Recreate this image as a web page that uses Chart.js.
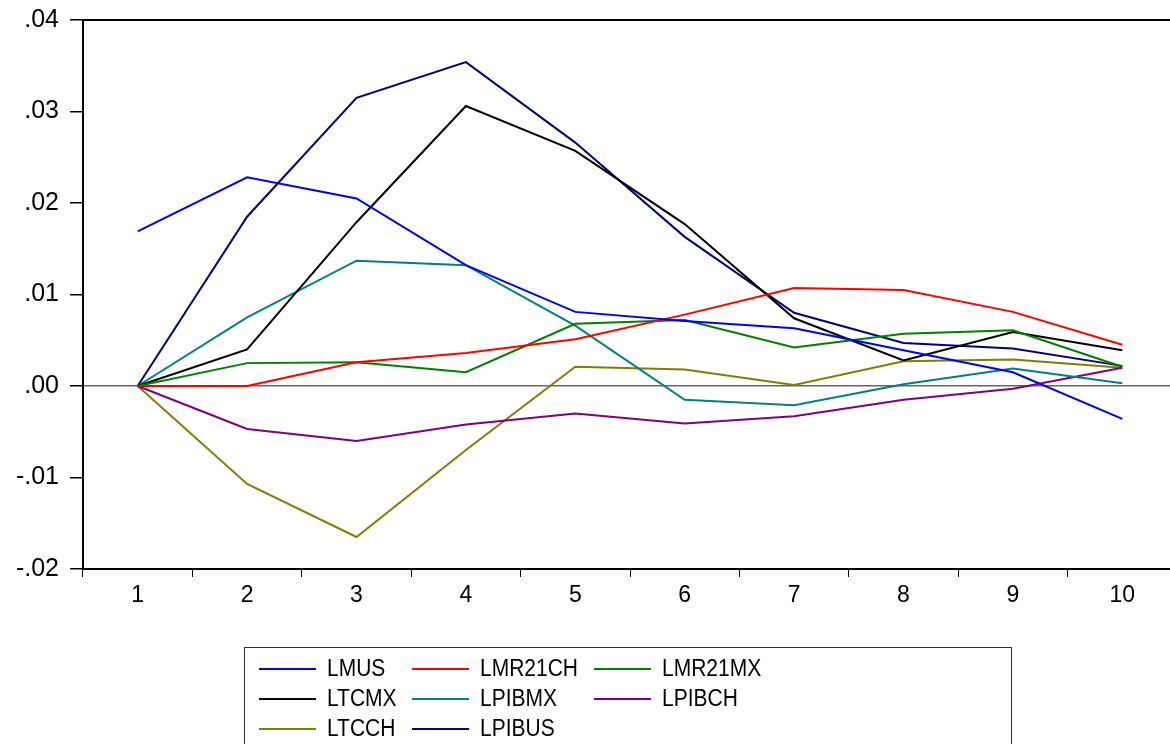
<!DOCTYPE html>
<html>
<head>
<meta charset="utf-8">
<script src="https://cdn.jsdelivr.net/npm/chart.js@4"></script>
<style>
  html, body { margin: 0; padding: 0; background: #fff; overflow: hidden; }
  #wrap { position: absolute; left: 0; top: 0; width: 1180px; height: 744px; }
  #legend {
    position: absolute; left: 244px; top: 647px; width: 768px; height: 120px;
    border: 1px solid #333; box-sizing: border-box;
    font-family: "Liberation Sans", Arial, sans-serif; font-size: 21px; color: #000;
  }
  .item { position: absolute; height: 30px; }
  .item span.ln { position: absolute; top: 14px; width: 57px; height: 2px; }
  .item span.tx { position: absolute; top: 1px; white-space: nowrap; line-height: 26px; transform: scaleY(1.12); transform-origin: 0 50%; }
</style>
</head>
<body>
<div id="wrap">
  <canvas id="irf" width="1180" height="744"></canvas>
  <div id="legend"></div>
</div>
<script>
const periods = ["1", "2", "3", "4", "5", "6", "7", "8", "9", "10"];

const lmus    = [0.0169, 0.0228, 0.0205, 0.0132, 0.0081, 0.0071, 0.0063, 0.0039, 0.0015, -0.0036];
const lmr21ch = [0.0000, 0.0000, 0.0026, 0.0036, 0.0051, 0.0078, 0.0107, 0.0105, 0.0081, 0.0045];
const lmr21mx = [0.0000, 0.0025, 0.0026, 0.0015, 0.0068, 0.0072, 0.0042, 0.0057, 0.0061, 0.0021];
const ltcmx   = [0.0000, 0.0040, 0.0179, 0.0306, 0.0257, 0.0177, 0.0074, 0.0028, 0.0059, 0.0039];
const lpibmx  = [0.0000, 0.0075, 0.0137, 0.0132, 0.0066, -0.0015, -0.0021, 0.0002, 0.0019, 0.0003];
const lpibch  = [0.0000, -0.0047, -0.0060, -0.0042, -0.0030, -0.0041, -0.0033, -0.0015, -0.0003, 0.0020];
const ltcch   = [0.0000, -0.0107, -0.0165, -0.0070, 0.0021, 0.0018, 0.0001, 0.0027, 0.0029, 0.0020];
const lpibus  = [0.0000, 0.0185, 0.0315, 0.0354, 0.0266, 0.0163, 0.0080, 0.0047, 0.0041, 0.0022];

const names  = ["LMUS", "LMR21CH", "LMR21MX", "LTCMX", "LPIBMX", "LPIBCH", "LTCCH", "LPIBUS"];
const series = [lmus, lmr21ch, lmr21mx, ltcmx, lpibmx, lpibch, ltcch, lpibus];
const colors = ["#0000FF", "#FF0000", "#008000", "#000000", "#008080", "#800080", "#808000", "#000080"];

const font = "'Liberation Sans', Arial, sans-serif";

// frame round the plot area (top and right sides)
const frame = {
  id: "frame",
  afterDraw(chart) {
    const a = chart.chartArea, c = chart.ctx;
    c.save();
    c.strokeStyle = "#000";
    c.lineWidth = 2;
    c.beginPath();
    c.moveTo(a.left, a.top);
    c.lineTo(a.right, a.top);
    c.lineTo(a.right, a.bottom);
    c.stroke();
    c.restore();
  }
};

const ctx = document.getElementById("irf").getContext("2d");
new Chart(ctx, {
  type: "line",
  data: {
    labels: periods,
    datasets: names.map((n, i) => ({
      label: n,
      data: series[i],
      borderColor: colors[i],
      borderWidth: 2,
      pointRadius: 0,
      tension: 0,
      fill: false
    }))
  },
  options: {
    responsive: false,
    animation: false,
    layout: { padding: { top: 20, right: 3, bottom: 125, left: 0 } },
    plugins: { legend: { display: false }, tooltip: { enabled: false } },
    scales: {
      x: {
        offset: true,
        afterFit: (s) => { s.height = 50; },
        grid: { offset: true, drawOnChartArea: false, tickLength: 8, color: "#000", tickColor: "#000" },
        border: { color: "#000", width: 2 },
        ticks: { color: "#000", font: { family: font, size: 23 }, padding: 5, maxRotation: 0 }
      },
      y: {
        min: -0.02,
        max: 0.04,
        afterFit: (s) => { s.width = 83; s.paddingTop = 0; s.paddingBottom = 0; },
        grid: {
          tickLength: 13,
          tickColor: "#000",
          color: (c) => (c.tick && Math.abs(c.tick.value) < 1e-9 ? "#666" : "rgba(0,0,0,0)"),
          lineWidth: 1.5
        },
        border: { color: "#000", width: 2 },
        ticks: {
          stepSize: 0.01,
          color: "#000",
          padding: 11,
          font: { family: font, size: 25 },
          callback: (v) => {
            const r = Math.round(v * 100);
            return (r < 0 ? "-" : "") + "." + String(Math.abs(r)).padStart(2, "0");
          }
        }
      }
    }
  },
  plugins: [frame]
});

// legend in three columns, as in the original
const legend = document.getElementById("legend");
const colX = [14, 167, 349];
const rowY = [6, 36, 66];
names.forEach((n, i) => {
  const d = document.createElement("div");
  d.className = "item";
  d.style.left = colX[i % 3] + "px";
  d.style.top = rowY[Math.floor(i / 3)] + "px";
  d.innerHTML = `<span class="ln" style="background:${colors[i]}"></span><span class="tx" style="left:68px">${n}</span>`;
  legend.appendChild(d);
});
</script>
</body>
</html>
